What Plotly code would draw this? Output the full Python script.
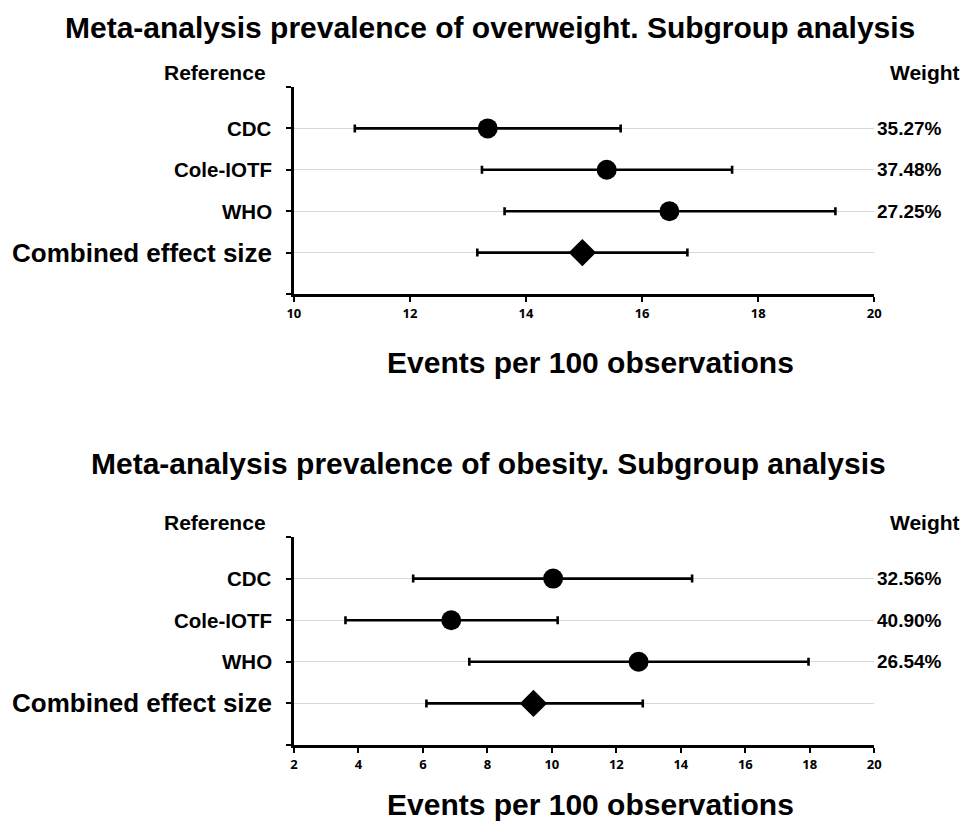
import plotly.graph_objects as go

# The page body has an 8px default margin; the figure is sized to fit the window.
OFF = 8
W, H = 977 - 2 * OFF, 829 - 2 * OFF

categories = ["CDC", "Cole-IOTF", "WHO", "Combined effect size"]
cat_pos = [1, 2, 3, 4]

ow_est = [13.34, 15.39, 16.47, 14.97]
ow_low = [11.05, 13.24, 13.63, 13.16]
ow_high = [15.63, 17.55, 19.33, 16.78]
ow_weight = ["35.27%", "37.48%", "27.25%"]

ob_est = [10.04, 6.88, 12.69, 9.43]
ob_low = [5.70, 3.60, 7.44, 6.11]
ob_high = [14.35, 10.18, 17.96, 12.82]
ob_weight = ["32.56%", "40.90%", "26.54%"]

top_title = "Meta-analysis prevalence of overweight. Subgroup analysis"
bot_title = "Meta-analysis prevalence of obesity. Subgroup analysis"
x_title = "Events per 100 observations"

FONT = "Liberation Sans, Arial, sans-serif"


def py(p):
    return 1 - (p - OFF) / H


def px(p):
    return (p - OFF) / W


fig = go.Figure()

panels = [
    dict(est=ow_est, low=ow_low, high=ow_high, w=ow_weight, xa="x", ya="y",
         xr=[10, 20], dom=[py(294), py(87)], title=top_title, ty=27, tx=490, xty=362, hy=72),
    dict(est=ob_est, low=ob_low, high=ob_high, w=ob_weight, xa="x2", ya="y2",
         xr=[2, 20], dom=[py(745), py(537)], title=bot_title, ty=463, tx=488, xty=804, hy=522),
]

annotations = []
for i, p in enumerate(panels):
    plus = [h - e for h, e in zip(p["high"], p["est"])]
    minus = [e - l for e, l in zip(p["est"], p["low"])]
    err = dict(type="data", symmetric=False, array=plus[:3], arrayminus=minus[:3],
               color="black", thickness=2.6, width=4)
    fig.add_trace(go.Scatter(
        x=p["est"][:3], y=cat_pos[:3], mode="markers", xaxis=p["xa"], yaxis=p["ya"],
        marker=dict(symbol="circle", size=20, color="black"),
        error_x=err, showlegend=False))
    err2 = dict(type="data", symmetric=False, array=plus[3:], arrayminus=minus[3:],
                color="black", thickness=2.6, width=4)
    fig.add_trace(go.Scatter(
        x=p["est"][3:], y=cat_pos[3:], mode="markers", xaxis=p["xa"], yaxis=p["ya"],
        marker=dict(symbol="diamond", size=21, color="black"),
        error_x=err2, showlegend=False))

    yref = p["ya"]
    for j, c in enumerate(categories):
        size = 26 if j == 3 else 20.5
        annotations.append(dict(
            x=px(271), y=cat_pos[j], xref="paper", yref=yref, text="<b>%s</b>" % c,
            showarrow=False, xanchor="right", yanchor="middle",
            font=dict(family=FONT, size=size, color="black")))
    for j, wv in enumerate(p["w"]):
        annotations.append(dict(
            x=px(916), y=cat_pos[j], xref="paper", yref=yref, text="<b>%s</b>" % wv,
            showarrow=False, xanchor="center", yanchor="middle",
            font=dict(family=FONT, size=19, color="black")))
    annotations.append(dict(x=px(265), y=py(p["hy"]), xref="paper", yref="paper",
                            text="<b>Reference</b>", showarrow=False, xanchor="right",
                            yanchor="middle", font=dict(family=FONT, size=21, color="black")))
    annotations.append(dict(x=px(969), y=py(p["hy"]), xref="paper", yref="paper",
                            text="<b>Weight</b>", showarrow=False, xanchor="right",
                            yanchor="middle", font=dict(family=FONT, size=21, color="black")))
    annotations.append(dict(x=px(p["tx"]), y=py(p["ty"]), xref="paper", yref="paper",
                            text="<b>%s</b>" % p["title"], showarrow=False, xanchor="center",
                            yanchor="middle", font=dict(family=FONT, size=30, color="black")))
    annotations.append(dict(x=px(592), y=py(p["xty"]), xref="paper", yref="paper",
                            text="<b>%s</b>" % x_title, showarrow=False, xanchor="center",
                            yanchor="middle", font=dict(family=FONT, size=30, color="black")))

    xkey = "xaxis" if i == 0 else "xaxis2"
    ykey = "yaxis" if i == 0 else "yaxis2"
    fig.layout[xkey] = dict(
        range=p["xr"], dtick=2, tick0=0, domain=[px(291), px(880)], anchor=p["ya"],
        showgrid=False, zeroline=False, showline=True, linecolor="black", linewidth=3,
        ticks="outside", ticklen=5, tickwidth=2, tickcolor="black",
        tickfont=dict(family="Open Sans, sans-serif", size=13, color="black", weight="bold"),
        fixedrange=True)
    fig.layout[ykey] = dict(
        range=[5, 0], domain=p["dom"], anchor=p["xa"], tickvals=cat_pos, ticktext=["", "", "", ""],
        showgrid=True, gridcolor="#d9d9d9", gridwidth=1, zeroline=False,
        showline=True, linecolor="black", linewidth=3,
        ticks="outside", ticklen=5, tickwidth=2, tickcolor="black",
        minor=dict(tickvals=[0, 5], ticks="outside", ticklen=5, tickwidth=2, tickcolor="black", showgrid=False),
        fixedrange=True)

fig.update_layout(
    width=W, height=H, margin=dict(l=0, r=0, t=0, b=0),
    paper_bgcolor="white", plot_bgcolor="white",
    annotations=annotations, showlegend=False)

fig.write_html("out.html")
